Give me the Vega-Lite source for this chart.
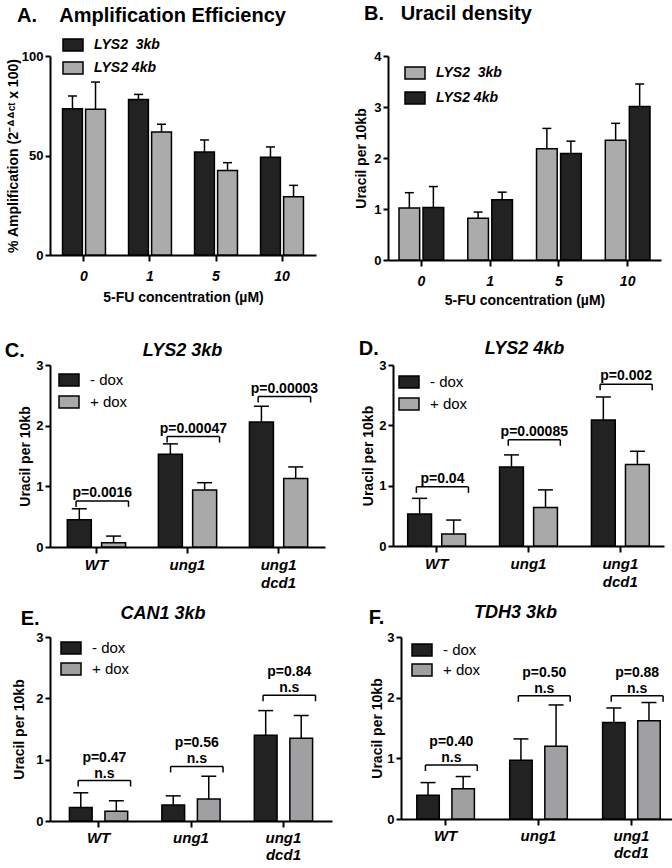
{
"$schema": "https://vega.github.io/schema/vega-lite/v6.json",
"padding": {"left": 4, "top": 4, "right": 2, "bottom": 2},
"background": "white",
"config": {
  "font": "Liberation Sans",
  "view": {"stroke": null},
  "axis": {"domainColor": "black", "domainWidth": 2, "tickColor": "black", "tickWidth": 2, "tickSize": 6, "labelColor": "black", "labelFont": "Liberation Sans", "labelFontWeight": "bold", "labelFontSize": 13, "titleFont": "Liberation Sans", "titleFontWeight": "bold", "titleFontSize": 14, "titleColor": "black", "grid": false},
  "axisX": {"labelFontStyle": "italic", "labelFontSize": 15, "labelAngle": 0},
  "axisY": {"format": "d", "tickSize": 5, "labelPadding": 2},
  "legend": {"orient": "none", "title": null, "symbolType": "M-1,-0.6H1V0.6H-1Z", "symbolSize": 400, "symbolStrokeColor": "black", "symbolStrokeWidth": 1.5, "symbolOpacity": 1, "labelFont": "Liberation Sans", "labelColor": "black", "labelFontSize": 15, "labelOffset": 10, "rowPadding": 3},
  "title": {"font": "Liberation Sans", "fontWeight": "bold", "color": "black"}
},
"datasets": {
  "A": [
    {"g": "0", "s": "LYS2 3kb", "v": 73.5, "hi": 79.9},
    {"g": "0", "s": "LYS2 4kb", "v": 73.2, "hi": 86.9},
    {"g": "1", "s": "LYS2 3kb", "v": 78.2, "hi": 80.7},
    {"g": "1", "s": "LYS2 4kb", "v": 61.8, "hi": 65.7},
    {"g": "5", "s": "LYS2 3kb", "v": 51.8, "hi": 57.8},
    {"g": "5", "s": "LYS2 4kb", "v": 42.4, "hi": 46.4},
    {"g": "10", "s": "LYS2 3kb", "v": 49.1, "hi": 54.3},
    {"g": "10", "s": "LYS2 4kb", "v": 29.3, "hi": 35.0}
  ],
  "B": [
    {"g": "0", "s": "LYS2 3kb", "v": 1.02, "hi": 1.32},
    {"g": "0", "s": "LYS2 4kb", "v": 1.03, "hi": 1.44},
    {"g": "1", "s": "LYS2 3kb", "v": 0.82, "hi": 0.94},
    {"g": "1", "s": "LYS2 4kb", "v": 1.18, "hi": 1.33},
    {"g": "5", "s": "LYS2 3kb", "v": 2.18, "hi": 2.58},
    {"g": "5", "s": "LYS2 4kb", "v": 2.09, "hi": 2.33},
    {"g": "10", "s": "LYS2 3kb", "v": 2.35, "hi": 2.68},
    {"g": "10", "s": "LYS2 4kb", "v": 3.01, "hi": 3.45}
  ],
  "C": [
    {"g": "WT", "s": "- dox", "v": 0.45, "hi": 0.63},
    {"g": "WT", "s": "+ dox", "v": 0.07, "hi": 0.18},
    {"g": "ung1", "s": "- dox", "v": 1.53, "hi": 1.70},
    {"g": "ung1", "s": "+ dox", "v": 0.94, "hi": 1.06},
    {"g": "ung1 dcd1", "s": "- dox", "v": 2.06, "hi": 2.32},
    {"g": "ung1 dcd1", "s": "+ dox", "v": 1.13, "hi": 1.32}
  ],
  "Cb": [
    {"g": "WT", "y": 0.76, "label": "p=0.0016"},
    {"g": "ung1", "y": 1.82, "label": "p=0.00047"},
    {"g": "ung1 dcd1", "y": 2.48, "label": "p=0.00003"}
  ],
  "D": [
    {"g": "WT", "s": "- dox", "v": 0.53, "hi": 0.79},
    {"g": "WT", "s": "+ dox", "v": 0.20, "hi": 0.43},
    {"g": "ung1", "s": "- dox", "v": 1.31, "hi": 1.51},
    {"g": "ung1", "s": "+ dox", "v": 0.64, "hi": 0.93},
    {"g": "ung1 dcd1", "s": "- dox", "v": 2.09, "hi": 2.47},
    {"g": "ung1 dcd1", "s": "+ dox", "v": 1.35, "hi": 1.57}
  ],
  "Db": [
    {"g": "WT", "y": 0.98, "label": "p=0.04"},
    {"g": "ung1", "y": 1.76, "label": "p=0.00085"},
    {"g": "ung1 dcd1", "y": 2.68, "label": "p=0.002"}
  ],
  "E": [
    {"g": "WT", "s": "- dox", "v": 0.22, "hi": 0.46},
    {"g": "WT", "s": "+ dox", "v": 0.16, "hi": 0.33},
    {"g": "ung1", "s": "- dox", "v": 0.26, "hi": 0.41},
    {"g": "ung1", "s": "+ dox", "v": 0.36, "hi": 0.73},
    {"g": "ung1 dcd1", "s": "- dox", "v": 1.40, "hi": 1.80},
    {"g": "ung1 dcd1", "s": "+ dox", "v": 1.35, "hi": 1.72}
  ],
  "Eb": [
    {"g": "WT", "y": 0.66, "label": "p=0.47\nn.s"},
    {"g": "ung1", "y": 0.89, "label": "p=0.56\nn.s"},
    {"g": "ung1 dcd1", "y": 2.05, "label": "p=0.84\nn.s"}
  ],
  "F": [
    {"g": "WT", "s": "- dox", "v": 0.39, "hi": 0.60},
    {"g": "WT", "s": "+ dox", "v": 0.50, "hi": 0.70},
    {"g": "ung1", "s": "- dox", "v": 0.97, "hi": 1.32},
    {"g": "ung1", "s": "+ dox", "v": 1.20, "hi": 1.88},
    {"g": "ung1 dcd1", "s": "- dox", "v": 1.59, "hi": 1.83},
    {"g": "ung1 dcd1", "s": "+ dox", "v": 1.62, "hi": 1.92}
  ],
  "Fb": [
    {"g": "WT", "y": 0.89, "label": "p=0.40\nn.s"},
    {"g": "ung1", "y": 2.03, "label": "p=0.50\nn.s"},
    {"g": "ung1 dcd1", "y": 2.03, "label": "p=0.88\nn.s"}
  ]
},
"resolve": {"scale": {"x": "independent", "y": "independent", "fill": "independent", "xOffset": "independent"}, "legend": {"fill": "independent"}},
"spacing": 32,
"vconcat": [
  {
    "spacing": 38,
    "resolve": {"scale": {"x": "independent", "y": "independent", "fill": "independent", "xOffset": "independent"}, "legend": {"fill": "independent"}},
    "hconcat": [
      {
        "title": {"text": "A.\u00a0\u00a0\u00a0\u00a0Amplification Efficiency", "anchor": "start", "frame": "group", "fontSize": 20, "dx": -33, "offset": 8},
        "width": 266, "height": 199,
        "data": {"name": "A"},
        "encoding": {
          "x": {"field": "g", "type": "nominal", "sort": ["0", "1", "5", "10"], "scale": {"paddingInner": 0.35, "paddingOuter": 0.19}, "axis": {"title": "5-FU concentration (µM)", "labelFontSize": 14, "labelPadding": 8, "titlePadding": 7}},
          "xOffset": {"field": "s", "type": "nominal", "sort": ["LYS2 3kb", "LYS2 4kb"], "scale": {"paddingInner": 0.14}}
        },
        "layer": [
          {"mark": {"type": "bar", "stroke": "black", "strokeWidth": 1.5},
           "encoding": {
             "y": {"field": "v", "type": "quantitative", "scale": {"domain": [0, 100]}, "axis": {"values": [0, 50, 100], "title": "% Amplification (2⁻ᐞᐞᶜᵗ x 100)", "titlePadding": 1}},
             "fill": {"field": "s", "type": "nominal", "scale": {"domain": ["LYS2 3kb", "LYS2 4kb"], "range": ["#222222", "#ababab"]},
               "legend": {"legendX": 12, "legendY": -22, "labelFontWeight": "bold", "labelFontStyle": "italic", "labelFontSize": 14, "labelExpr": "datum.label == 'LYS2 3kb' ? 'LYS2\u00a0 3kb' : datum.label"}}
           }},
          {"mark": {"type": "rule", "strokeWidth": 1.5, "color": "black"},
           "encoding": {"y": {"field": "v", "type": "quantitative"}, "y2": {"field": "hi"}}},
          {"mark": {"type": "tick", "thickness": 1.5, "size": 9, "color": "black", "opacity": 1},
           "encoding": {"y": {"field": "hi", "type": "quantitative"}}}
        ]
      },
      {
        "title": {"text": "B.\u00a0\u00a0\u00a0Uracil density", "anchor": "start", "frame": "group", "fontSize": 20, "dx": -24, "offset": 26},
        "width": 273, "height": 204,
        "data": {"name": "B"},
        "encoding": {
          "x": {"field": "g", "type": "nominal", "sort": ["0", "1", "5", "10"], "scale": {"paddingInner": 0.35, "paddingOuter": 0.16}, "axis": {"title": "5-FU concentration (µM)", "labelFontSize": 14, "labelPadding": 8, "titlePadding": 5}},
          "xOffset": {"field": "s", "type": "nominal", "sort": ["LYS2 3kb", "LYS2 4kb"], "scale": {"paddingInner": 0.14}}
        },
        "layer": [
          {"mark": {"type": "bar", "stroke": "black", "strokeWidth": 1.5},
           "encoding": {
             "y": {"field": "v", "type": "quantitative", "scale": {"domain": [0, 4]}, "axis": {"values": [0, 1, 2, 3, 4], "title": "Uracil per 10kb", "titlePadding": 5}},
             "fill": {"field": "s", "type": "nominal", "scale": {"domain": ["LYS2 3kb", "LYS2 4kb"], "range": ["#ababab", "#222222"]},
               "legend": {"legendX": 16, "legendY": 6, "rowPadding": 5, "labelFontWeight": "bold", "labelFontStyle": "italic", "labelFontSize": 14, "labelExpr": "datum.label == 'LYS2 3kb' ? 'LYS2\u00a0 3kb' : datum.label"}}
           }},
          {"mark": {"type": "rule", "strokeWidth": 1.5, "color": "black"},
           "encoding": {"y": {"field": "v", "type": "quantitative"}, "y2": {"field": "hi"}}},
          {"mark": {"type": "tick", "thickness": 1.5, "size": 9, "color": "black", "opacity": 1},
           "encoding": {"y": {"field": "hi", "type": "quantitative"}}}
        ]
      }
    ]
  },
  {
    "spacing": 14,
    "resolve": {"scale": {"x": "independent", "y": "independent", "fill": "independent", "xOffset": "independent"}, "legend": {"fill": "independent"}},
    "vconcat": [
  {
    "spacing": 33,
    "resolve": {"scale": {"x": "independent", "y": "independent", "fill": "independent", "xOffset": "independent"}, "legend": {"fill": "independent"}},
    "hconcat": [
      {
        "title": {"text": "C.", "anchor": "start", "fontSize": 20, "offset": -19, "dx": -14},
        "vconcat": [
          {
            "title": {"text": "LYS2 3kb", "anchor": "middle", "frame": "group", "fontSize": 18, "fontStyle": "italic", "dx": -5, "offset": -1},
            "width": 275, "height": 182,
            "layer": [
              {
                "data": {"name": "C"},
                "encoding": {
                  "x": {"field": "g", "type": "nominal", "sort": ["WT", "ung1", "ung1 dcd1"], "scale": {"paddingInner": 0.36, "paddingOuter": 0.19}, "axis": {"title": null, "labelPadding": 4, "labelLineHeight": 18, "labelExpr": "datum.label == 'ung1 dcd1' ? ['ung1', 'dcd1'] : datum.label"}},
                  "xOffset": {"field": "s", "type": "nominal", "sort": ["- dox", "+ dox"], "scale": {"paddingInner": 0.3}}
                },
                "layer": [
                  {"mark": {"type": "bar", "stroke": "black", "strokeWidth": 1.5},
                   "encoding": {
                     "y": {"field": "v", "type": "quantitative", "scale": {"domain": [0, 3]}, "axis": {"values": [0, 1, 2, 3], "title": "Uracil per 10kb", "titlePadding": 3}},
                     "fill": {"field": "s", "type": "nominal", "scale": {"domain": ["- dox", "+ dox"], "range": ["#222222", "#a9a9a9"]}, "legend": {"legendX": 8, "legendY": 4, "rowPadding": 2}}
                   }},
                  {"mark": {"type": "rule", "strokeWidth": 1.5, "color": "black"},
                   "encoding": {"y": {"field": "v", "type": "quantitative"}, "y2": {"field": "hi"}}},
                  {"mark": {"type": "tick", "thickness": 1.5, "size": 15, "color": "black", "opacity": 1},
                   "encoding": {"y": {"field": "hi", "type": "quantitative"}}}
                ]
              },
              {
                "data": {"name": "Cb"},
                "layer": [
                  {"mark": {"type": "rule", "strokeWidth": 1.5, "color": "black"},
                   "encoding": {"x": {"field": "g", "type": "nominal", "sort": ["WT", "ung1", "ung1 dcd1"], "bandPosition": 0.15}, "x2": {"field": "g", "bandPosition": 1.05}, "y": {"field": "y", "type": "quantitative"}}},
                  {"mark": {"type": "rule", "strokeWidth": 1.5, "color": "black", "y2Offset": 6},
                   "encoding": {"x": {"field": "g", "type": "nominal", "sort": ["WT", "ung1", "ung1 dcd1"], "bandPosition": 0.15}, "y": {"field": "y", "type": "quantitative"}, "y2": {"field": "y"}}},
                  {"mark": {"type": "rule", "strokeWidth": 1.5, "color": "black", "y2Offset": 6},
                   "encoding": {"x": {"field": "g", "type": "nominal", "sort": ["WT", "ung1", "ung1 dcd1"], "bandPosition": 1.05}, "y": {"field": "y", "type": "quantitative"}, "y2": {"field": "y"}}},
                  {"mark": {"type": "text", "fontSize": 14, "fontWeight": "bold", "baseline": "alphabetic", "dy": -4, "color": "black"},
                   "encoding": {"x": {"field": "g", "type": "nominal", "sort": ["WT", "ung1", "ung1 dcd1"], "bandPosition": 0.6}, "y": {"field": "y", "type": "quantitative"}, "text": {"field": "label"}}}
                ]
              }
            ]
          }
        ]
      },
      {
        "title": {"text": "D.", "anchor": "start", "fontSize": 20, "offset": -19, "dx": -3},
        "vconcat": [
          {
            "title": {"text": "LYS2 4kb", "anchor": "middle", "frame": "group", "fontSize": 18, "fontStyle": "italic", "dx": -4, "offset": 1},
            "width": 271, "height": 181,
            "layer": [
              {
                "data": {"name": "D"},
                "encoding": {
                  "x": {"field": "g", "type": "nominal", "sort": ["WT", "ung1", "ung1 dcd1"], "scale": {"paddingInner": 0.37, "paddingOuter": 0.16}, "axis": {"title": null, "labelPadding": 4, "labelLineHeight": 18, "labelExpr": "datum.label == 'ung1 dcd1' ? ['ung1', 'dcd1'] : datum.label"}},
                  "xOffset": {"field": "s", "type": "nominal", "sort": ["- dox", "+ dox"], "scale": {"paddingInner": 0.3}}
                },
                "layer": [
                  {"mark": {"type": "bar", "stroke": "black", "strokeWidth": 1.5},
                   "encoding": {
                     "y": {"field": "v", "type": "quantitative", "scale": {"domain": [0, 3]}, "axis": {"values": [0, 1, 2, 3], "title": "Uracil per 10kb", "titlePadding": 3}},
                     "fill": {"field": "s", "type": "nominal", "scale": {"domain": ["- dox", "+ dox"], "range": ["#222222", "#a9a9a9"]}, "legend": {"legendX": 5, "legendY": 6, "rowPadding": 2}}
                   }},
                  {"mark": {"type": "rule", "strokeWidth": 1.5, "color": "black"},
                   "encoding": {"y": {"field": "v", "type": "quantitative"}, "y2": {"field": "hi"}}},
                  {"mark": {"type": "tick", "thickness": 1.5, "size": 15, "color": "black", "opacity": 1},
                   "encoding": {"y": {"field": "hi", "type": "quantitative"}}}
                ]
              },
              {
                "data": {"name": "Db"},
                "layer": [
                  {"mark": {"type": "rule", "strokeWidth": 1.5, "color": "black"},
                   "encoding": {"x": {"field": "g", "type": "nominal", "sort": ["WT", "ung1", "ung1 dcd1"], "bandPosition": 0.15}, "x2": {"field": "g", "bandPosition": 1.05}, "y": {"field": "y", "type": "quantitative"}}},
                  {"mark": {"type": "rule", "strokeWidth": 1.5, "color": "black", "y2Offset": 6},
                   "encoding": {"x": {"field": "g", "type": "nominal", "sort": ["WT", "ung1", "ung1 dcd1"], "bandPosition": 0.15}, "y": {"field": "y", "type": "quantitative"}, "y2": {"field": "y"}}},
                  {"mark": {"type": "rule", "strokeWidth": 1.5, "color": "black", "y2Offset": 6},
                   "encoding": {"x": {"field": "g", "type": "nominal", "sort": ["WT", "ung1", "ung1 dcd1"], "bandPosition": 1.05}, "y": {"field": "y", "type": "quantitative"}, "y2": {"field": "y"}}},
                  {"mark": {"type": "text", "fontSize": 14, "fontWeight": "bold", "baseline": "alphabetic", "dy": -4, "color": "black"},
                   "encoding": {"x": {"field": "g", "type": "nominal", "sort": ["WT", "ung1", "ung1 dcd1"], "bandPosition": 0.6}, "y": {"field": "y", "type": "quantitative"}, "text": {"field": "label"}}}
                ]
              }
            ]
          }
        ]
      }
    ]
  },
  {
    "spacing": 36,
    "resolve": {"scale": {"x": "independent", "y": "independent", "fill": "independent", "xOffset": "independent"}, "legend": {"fill": "independent"}},
    "hconcat": [
      {
        "title": {"text": "E.", "anchor": "start", "fontSize": 20, "offset": -24, "dx": 8},
        "vconcat": [
          {
            "title": {"text": "CAN1 3kb", "anchor": "middle", "frame": "group", "fontSize": 18, "fontStyle": "italic", "dx": -28, "offset": 8},
            "width": 282, "height": 184,
            "layer": [
              {
                "data": {"name": "E"},
                "encoding": {
                  "x": {"field": "g", "type": "nominal", "sort": ["WT", "ung1", "ung1 dcd1"], "scale": {"paddingInner": 0.37, "paddingOuter": 0.21}, "axis": {"title": null, "labelPadding": 3, "labelLineHeight": 17, "labelExpr": "datum.label == 'ung1 dcd1' ? ['ung1', 'dcd1'] : datum.label"}},
                  "xOffset": {"field": "s", "type": "nominal", "sort": ["- dox", "+ dox"], "scale": {"paddingInner": 0.36}}
                },
                "layer": [
                  {"mark": {"type": "bar", "stroke": "black", "strokeWidth": 1.5},
                   "encoding": {
                     "y": {"field": "v", "type": "quantitative", "scale": {"domain": [0, 3]}, "axis": {"values": [0, 1, 2, 3], "title": "Uracil per 10kb", "titlePadding": 9}},
                     "fill": {"field": "s", "type": "nominal", "scale": {"domain": ["- dox", "+ dox"], "range": ["#222222", "#a0a0a3"]}, "legend": {"legendX": 10, "legendY": 0, "rowPadding": 1}}
                   }},
                  {"mark": {"type": "rule", "strokeWidth": 1.5, "color": "black"},
                   "encoding": {"y": {"field": "v", "type": "quantitative"}, "y2": {"field": "hi"}}},
                  {"mark": {"type": "tick", "thickness": 1.5, "size": 15, "color": "black", "opacity": 1},
                   "encoding": {"y": {"field": "hi", "type": "quantitative"}}}
                ]
              },
              {
                "data": {"name": "Eb"},
                "layer": [
                  {"mark": {"type": "rule", "strokeWidth": 1.5, "color": "black"},
                   "encoding": {"x": {"field": "g", "type": "nominal", "sort": ["WT", "ung1", "ung1 dcd1"], "bandPosition": 0.15}, "x2": {"field": "g", "bandPosition": 1.05}, "y": {"field": "y", "type": "quantitative"}}},
                  {"mark": {"type": "rule", "strokeWidth": 1.5, "color": "black", "y2Offset": 6},
                   "encoding": {"x": {"field": "g", "type": "nominal", "sort": ["WT", "ung1", "ung1 dcd1"], "bandPosition": 0.15}, "y": {"field": "y", "type": "quantitative"}, "y2": {"field": "y"}}},
                  {"mark": {"type": "rule", "strokeWidth": 1.5, "color": "black", "y2Offset": 6},
                   "encoding": {"x": {"field": "g", "type": "nominal", "sort": ["WT", "ung1", "ung1 dcd1"], "bandPosition": 1.05}, "y": {"field": "y", "type": "quantitative"}, "y2": {"field": "y"}}},
                  {"mark": {"type": "text", "fontSize": 14, "fontWeight": "bold", "baseline": "alphabetic", "dy": -19, "lineBreak": "\n", "lineHeight": 16, "color": "black"},
                   "encoding": {"x": {"field": "g", "type": "nominal", "sort": ["WT", "ung1", "ung1 dcd1"], "bandPosition": 0.6}, "y": {"field": "y", "type": "quantitative"}, "text": {"field": "label"}}}
                ]
              }
            ]
          }
        ]
      },
      {
        "title": {"text": "F.", "anchor": "start", "fontSize": 20, "offset": -24, "dx": -2},
        "vconcat": [
          {
            "title": {"text": "TDH3 3kb", "anchor": "middle", "frame": "group", "fontSize": 18, "fontStyle": "italic", "dx": -23, "offset": 9},
            "width": 275, "height": 182,
            "layer": [
              {
                "data": {"name": "F"},
                "encoding": {
                  "x": {"field": "g", "type": "nominal", "sort": ["WT", "ung1", "ung1 dcd1"], "scale": {"paddingInner": 0.38, "paddingOuter": 0.17}, "axis": {"title": null, "labelPadding": 3, "labelLineHeight": 17, "labelExpr": "datum.label == 'ung1 dcd1' ? ['ung1', 'dcd1'] : datum.label"}},
                  "xOffset": {"field": "s", "type": "nominal", "sort": ["- dox", "+ dox"], "scale": {"paddingInner": 0.36}}
                },
                "layer": [
                  {"mark": {"type": "bar", "stroke": "black", "strokeWidth": 1.5},
                   "encoding": {
                     "y": {"field": "v", "type": "quantitative", "scale": {"domain": [0, 3]}, "axis": {"values": [0, 1, 2, 3], "title": "Uracil per 10kb", "titlePadding": 2}},
                     "fill": {"field": "s", "type": "nominal", "scale": {"domain": ["- dox", "+ dox"], "range": ["#222222", "#a0a0a3"]}, "legend": {"legendX": 10, "legendY": 2, "rowPadding": 0}}
                   }},
                  {"mark": {"type": "rule", "strokeWidth": 1.5, "color": "black"},
                   "encoding": {"y": {"field": "v", "type": "quantitative"}, "y2": {"field": "hi"}}},
                  {"mark": {"type": "tick", "thickness": 1.5, "size": 15, "color": "black", "opacity": 1},
                   "encoding": {"y": {"field": "hi", "type": "quantitative"}}}
                ]
              },
              {
                "data": {"name": "Fb"},
                "layer": [
                  {"mark": {"type": "rule", "strokeWidth": 1.5, "color": "black"},
                   "encoding": {"x": {"field": "g", "type": "nominal", "sort": ["WT", "ung1", "ung1 dcd1"], "bandPosition": 0.15}, "x2": {"field": "g", "bandPosition": 1.05}, "y": {"field": "y", "type": "quantitative"}}},
                  {"mark": {"type": "rule", "strokeWidth": 1.5, "color": "black", "y2Offset": 6},
                   "encoding": {"x": {"field": "g", "type": "nominal", "sort": ["WT", "ung1", "ung1 dcd1"], "bandPosition": 0.15}, "y": {"field": "y", "type": "quantitative"}, "y2": {"field": "y"}}},
                  {"mark": {"type": "rule", "strokeWidth": 1.5, "color": "black", "y2Offset": 6},
                   "encoding": {"x": {"field": "g", "type": "nominal", "sort": ["WT", "ung1", "ung1 dcd1"], "bandPosition": 1.05}, "y": {"field": "y", "type": "quantitative"}, "y2": {"field": "y"}}},
                  {"mark": {"type": "text", "fontSize": 14, "fontWeight": "bold", "baseline": "alphabetic", "dy": -19, "lineBreak": "\n", "lineHeight": 16, "color": "black"},
                   "encoding": {"x": {"field": "g", "type": "nominal", "sort": ["WT", "ung1", "ung1 dcd1"], "bandPosition": 0.6}, "y": {"field": "y", "type": "quantitative"}, "text": {"field": "label"}}}
                ]
              }
            ]
          }
        ]
      }
    ]
  }
    ]
  }
]
}
